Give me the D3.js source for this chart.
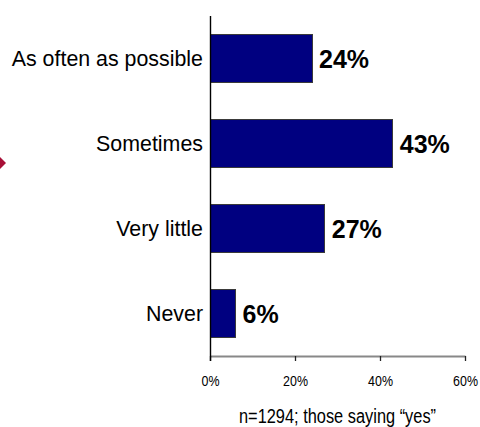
<!DOCTYPE html>
<html>
<head>
<meta charset="utf-8">
<script src="https://cdn.jsdelivr.net/npm/d3@7"></script>
<style>
  html, body { margin: 0; padding: 0; background: #fff; }
  svg { display: block; }
  text { font-family: "Liberation Sans", Arial, sans-serif; fill: #000; }
</style>
</head>
<body>
<svg id="chart" width="480" height="427"></svg>
<script>
// Survey answers and their shares (%)
const categories = ["As often as possible", "Sometimes", "Very little", "Never"];
const shares = [24, 43, 27, 6];
const tickValues = [0, 20, 40, 60];
const footnote = "n=1294; those saying \u201cyes\u201d";

const svg = d3.select("#chart");

const x = d3.scaleLinear().domain([0, 60]).range([210, 465]);
const y = d3.scaleBand()
  .domain(categories)
  .range([16, 356])
  .paddingInner(0.435)
  .paddingOuter(0.2175);

// small accent marker on the left edge
svg.append("path")
  .attr("d", "M-7,163L-1,156L6,163L-1,170Z")
  .attr("fill", "#a80f37");

// bars
svg.append("g").selectAll("rect")
  .data(categories)
  .join("rect")
  .attr("x", x(0))
  .attr("y", d => y(d))
  .attr("width", (d, i) => x(shares[i]) - x(0))
  .attr("height", y.bandwidth())
  .attr("fill", "#000080")
  .attr("stroke", "#3a3a3a")
  .attr("stroke-width", 1)
  .attr("shape-rendering", "crispEdges");

// value labels
svg.append("g").selectAll("text")
  .data(categories)
  .join("text")
  .attr("x", (d, i) => x(shares[i]) + 7)
  .attr("y", d => y(d) + y.bandwidth() / 2)
  .attr("dy", "0.38em")
  .attr("font-size", 25)
  .attr("font-weight", "bold")
  .text((d, i) => shares[i] + "%");

// category labels (narrow set)
svg.append("g").selectAll("text")
  .data(categories)
  .join("text")
  .attr("transform", d => `translate(203,${y(d) + y.bandwidth() / 2 + 7.5}) scale(0.93,1)`)
  .attr("text-anchor", "end")
  .attr("font-size", 23)
  .text(d => d);

// x axis
const xAxis = svg.append("g")
  .attr("transform", "translate(0,356)")
  .call(d3.axisBottom(x).tickValues(tickValues).tickSize(5).tickSizeOuter(0).tickFormat(d => d + "%"));
xAxis.select(".domain").attr("stroke", "#888").attr("stroke-width", 2);
xAxis.selectAll(".tick line").attr("stroke", "#222").attr("stroke-width", 1.3);
xAxis.selectAll(".tick text")
  .attr("y", null).attr("dy", null)
  .attr("transform", "translate(0,30) scale(0.83,1)")
  .attr("font-size", 15)
  .attr("font-family", "Liberation Sans, Arial, sans-serif")
  .attr("fill", "#000");

// category axis line
svg.append("line")
  .attr("x1", 210.5).attr("x2", 210.5)
  .attr("y1", 16).attr("y2", 361)
  .attr("stroke", "#000")
  .attr("stroke-width", 1.4);

// footnote
svg.append("text")
  .attr("transform", `translate(${(x(0) + x(60)) / 2},423) scale(0.78,1)`)
  .attr("text-anchor", "middle")
  .attr("font-size", 21)
  .text(footnote);
</script>
</body>
</html>
